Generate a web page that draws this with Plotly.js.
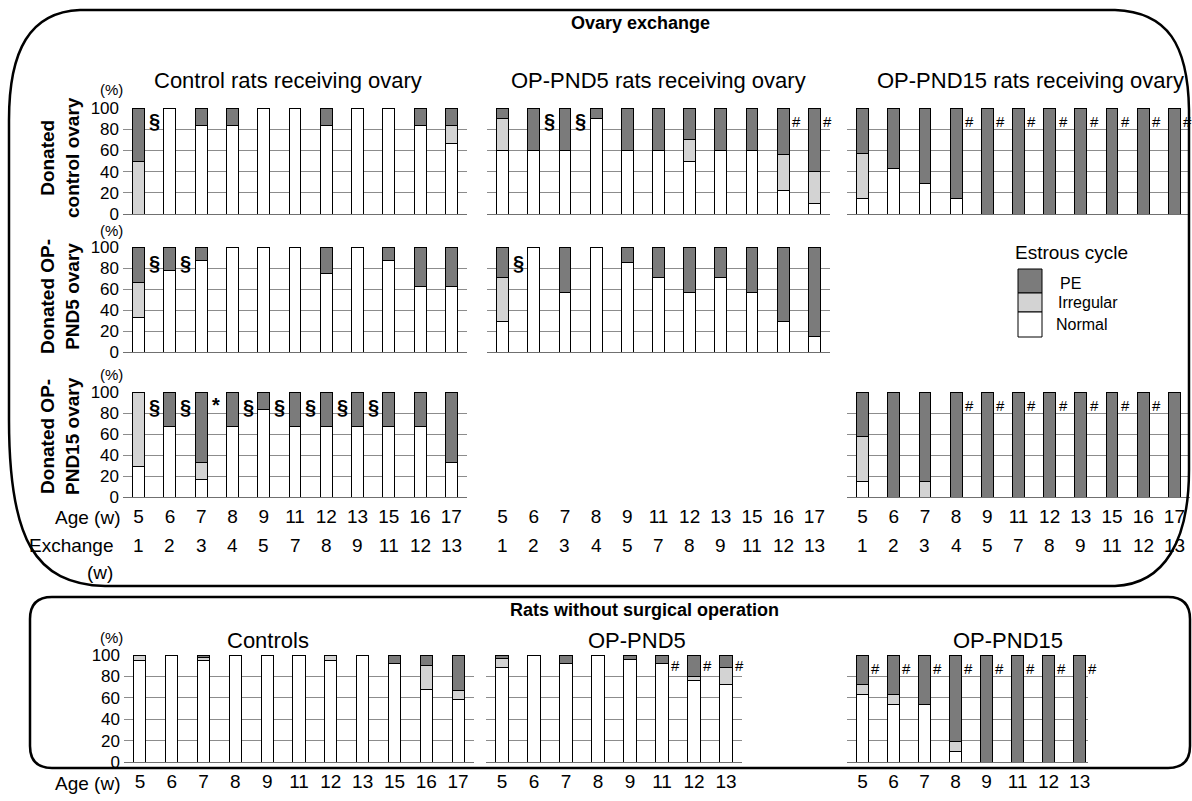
<!DOCTYPE html>
<html><head><meta charset="utf-8">
<script src="https://cdn.plot.ly/plotly-3.0.1.min.js"></script>
<style>html,body{margin:0;padding:0;background:#fff}#chart{width:1192px;height:801px}</style>
</head><body><div id="chart"></div>
<script>
// ---------- categories ----------
const agesOvx   = ['5','6','7','8','9','11','12','13','15','16','17'];
const exchangeW = ['1','2','3','4','5','7','8','9','11','12','13'];
const agesNoOp  = ['5','6','7','8','9','11','12','13'];

// ---------- Ovary exchange: donated control ovary ----------
const r1c1_normal = [0,100,83.3,83.3,100,100,83.3,100,100,83.3,66.7];
const r1c1_irr    = [50,0,0,0,0,0,0,0,0,0,16.7];
const r1c1_pe     = [50,0,16.7,16.7,0,0,16.7,0,0,16.7,16.6];

const r1c2_normal = [60,60,60,90,60,60,50,60,60,22,10];
const r1c2_irr    = [30,0,0,0,0,0,20,0,0,34,30];
const r1c2_pe     = [10,40,40,10,40,40,30,40,40,44,60];

const r1c3_normal = [14.3,42.9,28.6,14.3,0,0,0,0,0,0,0];
const r1c3_irr    = [42.9,0,0,0,0,0,0,0,0,0,0];
const r1c3_pe     = [42.8,57.1,71.4,85.7,100,100,100,100,100,100,100];

// ---------- donated OP-PND5 ovary ----------
const r2c1_normal = [33.3,77.8,87.5,100,100,100,75,100,87.5,62.5,62.5];
const r2c1_irr    = [33.3,0,0,0,0,0,0,0,0,0,0];
const r2c1_pe     = [33.4,22.2,12.5,0,0,0,25,0,12.5,37.5,37.5];

const r2c2_normal = [28.6,100,57.1,100,85.7,71.4,57.1,71.4,57.1,28.6,14.3];
const r2c2_irr    = [42.8,0,0,0,0,0,0,0,0,0,0];
const r2c2_pe     = [28.6,0,42.9,0,14.3,28.6,42.9,28.6,42.9,71.4,85.7];

// ---------- donated OP-PND15 ovary ----------
const r3c1_normal = [28.6,66.7,16.7,66.7,83.3,66.7,66.7,66.7,66.7,66.7,33.3];
const r3c1_irr    = [71.4,0,16.6,0,0,0,0,0,0,0,0];
const r3c1_pe     = [0,33.3,66.7,33.3,16.7,33.3,33.3,33.3,33.3,33.3,66.7];

const r3c3_normal = [14.3,0,0,0,0,0,0,0,0,0,0];
const r3c3_irr    = [42.9,0,14.3,0,0,0,0,0,0,0,0];
const r3c3_pe     = [42.8,100,85.7,100,100,100,100,100,100,100,100];

// ---------- rats without surgical operation ----------
const noop_ctrl_normal = [95,100,95,100,100,100,95,100,92,68,58];
const noop_ctrl_irr    = [5,0,3,0,0,0,5,0,0,22,9];
const noop_ctrl_pe     = [0,0,2,0,0,0,0,0,8,10,33];

const noop_pnd5_normal = [88,100,92,100,96,92,76,72];
const noop_pnd5_irr    = [9,0,0,0,0,0,4,16];
const noop_pnd5_pe     = [3,0,8,0,4,8,20,12];

const noop_pnd15_normal = [63,54,54,10,0,0,0,0];
const noop_pnd15_irr    = [9,9,0,9,0,0,0,0];
const noop_pnd15_pe     = [28,37,46,81,100,100,100,100];

// ---------- significance marks (bar index they follow) ----------
const r1c1_sect = [0];
const r1c2_sect = [1,2];
const r1c2_hash = [9,10];
const r1c3_hash = [3,4,5,6,7,8,9,10];
const r2c1_sect = [0,1];
const r2c2_sect = [0];
const r3c1_sect = [0,1,3,4,5,6,7];
const r3c1_star = [2];
const r3c3_hash = [3,4,5,6,7,8,9];
const noop_pnd5_hash  = [5,6,7];
const noop_pnd15_hash = [0,1,2,3,4,5,6,7];

// ---------- geometry helpers ----------
const W = 1192, H = 801;
const X = p => p / W;
const Y = p => 1 - p / H;
const P = (x, y) => X(x).toFixed(5) + ',' + Y(y).toFixed(5);
const FONT = '"Liberation Sans", Arial, Helvetica, sans-serif';
const C_PE = '#7b7b7b', C_IRR = '#d3d3d3', C_NORM = '#ffffff';

const panels = [
  {k:1,  n:r1c1_normal, i:r1c1_irr, p:r1c1_pe, cats:agesOvx, xd:[123,467], yd:[108,214], yl:true, pct:89,
   marks:[{idx:r1c1_sect, s:'§', y:88, b:true}]},
  {k:2,  n:r1c2_normal, i:r1c2_irr, p:r1c2_pe, cats:agesOvx, xd:[487,830], yd:[108,214],
   marks:[{idx:r1c2_sect, s:'§', y:88, b:true},{idx:r1c2_hash, s:'#', y:87}]},
  {k:3,  n:r1c3_normal, i:r1c3_irr, p:r1c3_pe, cats:agesOvx, xd:[847,1190], yd:[108,214],
   marks:[{idx:r1c3_hash, s:'#', y:87}]},
  {k:4,  n:r2c1_normal, i:r2c1_irr, p:r2c1_pe, cats:agesOvx, xd:[123,467], yd:[247,352], yl:true, pct:230,
   marks:[{idx:r2c1_sect, s:'§', y:85, b:true}]},
  {k:5,  n:r2c2_normal, i:r2c2_irr, p:r2c2_pe, cats:agesOvx, xd:[487,830], yd:[247,352],
   marks:[{idx:r2c2_sect, s:'§', y:85, b:true}]},
  {k:6,  n:r3c1_normal, i:r3c1_irr, p:r3c1_pe, cats:agesOvx, xd:[123,467], yd:[392,497], yl:true, pct:374, xl:true, exch:true,
   marks:[{idx:r3c1_sect, s:'§', y:86, b:true},{idx:r3c1_star, s:'*', y:88, b:true}]},
  {k:7,  n:r3c3_normal, i:r3c3_irr, p:r3c3_pe, cats:agesOvx, xd:[847,1190], yd:[392,497], xl:true, exch:true,
   marks:[{idx:r3c3_hash, s:'#', y:87}]},
  {k:8,  empty:true, cats:agesOvx, xd:[487,830], yd:[392,497], xl:true, exch:true, marks:[]},
  {k:9,  n:noop_ctrl_normal, i:noop_ctrl_irr, p:noop_ctrl_pe, cats:agesOvx, xd:[124,474], yd:[655,762], yl:true, pct:637, xl:true, marks:[]},
  {k:10, n:noop_pnd5_normal, i:noop_pnd5_irr, p:noop_pnd5_pe, cats:agesNoOp, xd:[486,742], yd:[655,762], xl:true,
   marks:[{idx:noop_pnd5_hash, s:'#', y:90}]},
  {k:11, n:noop_pnd15_normal, i:noop_pnd15_irr, p:noop_pnd15_pe, cats:agesNoOp, xd:[847,1088], yd:[655,762], xl:true, range:[-0.5,7.27],
   marks:[{idx:noop_pnd15_hash, s:'#', y:87}]}
];

const traces = [];
const layout = {
  width: W, height: H, margin:{l:0,r:0,t:0,b:0},
  paper_bgcolor:'#fff', plot_bgcolor:'rgba(0,0,0,0)',
  barmode:'stack', showlegend:false,
  font:{family:FONT, color:'#000'},
  annotations:[], shapes:[]
};

panels.forEach(pn => {
  const sx = pn.k === 1 ? '' : String(pn.k);
  const xa = 'x' + sx, ya = 'y' + sx;
  const idx = pn.cats.map((_, j) => j);
  const range = pn.range || [-0.5, pn.cats.length - 0.5];
  layout['xaxis' + sx] = {
    domain:[X(pn.xd[0]), X(pn.xd[1])], anchor:ya, type:'linear', range:range,
    tickmode:'array', tickvals:idx, ticktext:pn.cats, showticklabels:!!pn.xl,
    ticks:'', showgrid:false, zeroline:false, showline:false,
    tickfont:{size:19, family:FONT}, ticklabelstandoff:6, fixedrange:true
  };
  layout['yaxis' + sx] = {
    domain:[Y(pn.yd[1]), Y(pn.yd[0])], anchor:xa, range:[0,100],
    tickmode:'linear', tick0:0, dtick:20, showticklabels:!!pn.yl,
    ticks:'', showgrid:!pn.empty, gridcolor:'#8c8c8c', gridwidth:1,
    zeroline:!pn.empty, zerolinecolor:'#707070', zerolinewidth:1, showline:false,
    tickfont:{size:17, family:FONT}, ticklabelstandoff:3, fixedrange:true, visible:!pn.empty
  };
  if (pn.empty) {
    traces.push({type:'scatter', x:[], y:[], xaxis:xa, yaxis:ya, hoverinfo:'skip'});
  } else {
    const series = [['Normal', pn.n, C_NORM], ['Irregular', pn.i, C_IRR], ['PE', pn.p, C_PE]];
    series.forEach(([name, vals, col]) => {
      traces.push({
        type:'bar', name:name, x:idx, y:vals, xaxis:xa, yaxis:ya, width:0.38,
        marker:{color:col, line:{color:'#000', width:1}}, hoverinfo:'skip'
      });
    });
  }
  if (pn.yl) {
    layout.annotations.push({xref:'paper', yref:'paper', x:X(111), y:Y(pn.pct),
      text:'(%)', showarrow:false, font:{size:15}, xanchor:'center', yanchor:'middle'});
  }
  if (pn.exch) {
    exchangeW.forEach((t, j) => layout.annotations.push({xref:xa, yref:'paper', x:j, y:Y(545),
      text:t, showarrow:false, font:{size:19}, xanchor:'center', yanchor:'middle'}));
  }
  pn.marks.forEach(m => m.idx.forEach(j => layout.annotations.push({
    xref:xa, yref:ya, x:j + (m.b ? 0.27 : 0.22), y:m.y, text:m.b ? '<b>' + m.s + '</b>' : m.s,
    showarrow:false, font:{size:m.b ? 20 : 15}, xanchor:'left', yanchor:'middle'
  })));
});

// ---------- text labels ----------
const A = (x, y, text, size, opts) => layout.annotations.push(Object.assign({
  xref:'paper', yref:'paper', x:X(x), y:Y(y), text:text, showarrow:false,
  font:{size:size}, xanchor:'center', yanchor:'middle'}, opts || {}));

A(640, 23, '<b>Ovary exchange</b>', 18);
A(288, 80, 'Control rats receiving ovary', 22);
A(658, 80, 'OP-PND5 rats receiving ovary', 22);
A(1030, 80, 'OP-PND15 rats receiving ovary', 22);

A(60, 157, '<b>Donated<br>control ovary</b>', 19, {textangle:-90});
A(60, 296, '<b>Donated OP-<br>PND5 ovary</b>', 19, {textangle:-90});
A(60, 436, '<b>Donated OP-<br>PND15 ovary</b>', 19, {textangle:-90});

A(122, 517, 'Age (w)', 19, {xanchor:'right'});
A(116, 545, 'Exchange', 19, {xanchor:'right'});
A(100, 572, '(w)', 19);

A(644, 610, '<b>Rats without surgical operation</b>', 18);
A(268, 640, 'Controls', 22);
A(637, 640, 'OP-PND5', 22);
A(1008, 640, 'OP-PND15', 22);
A(122, 783, 'Age (w)', 19, {xanchor:'right'});

// legend
A(1013, 252, 'Estrous cycle', 19, {xanchor:'left'});
A(1058, 283, 'PE', 16, {xanchor:'left'});
A(1056, 302, 'Irregular', 16, {xanchor:'left'});
A(1054, 324, 'Normal', 16, {xanchor:'left'});
const rect = (x0, y0, x1, y1, fill) => layout.shapes.push({type:'rect', xref:'paper', yref:'paper',
  x0:X(x0), x1:X(x1), y0:Y(y1), y1:Y(y0), fillcolor:fill, line:{color:'#000', width:1}});
rect(1018, 269, 1042, 293, C_PE);
rect(1018, 293, 1042, 312, C_IRR);
rect(1018, 312, 1042, 337, C_NORM);

// ---------- rounded frames ----------
const bigBox = 'M' + P(80,10) + ' L' + P(1115,10) +
  ' C' + P(1168,12) + ' ' + P(1188,45) + ' ' + P(1189,110) +
  ' L' + P(1189,470) + ' C' + P(1189,540) + ' ' + P(1165,584) + ' ' + P(1115,586) +
  ' L' + P(105,586) + ' C' + P(35,584) + ' ' + P(9,540) + ' ' + P(9,420) +
  ' L' + P(9,120) + ' C' + P(9,50) + ' ' + P(30,12) + ' ' + P(80,10) + ' Z';
const r = 22;
const smallBox = 'M' + P(30+r,597) + ' L' + P(1190-r,597) + ' Q' + P(1190,597) + ' ' + P(1190,597+r) +
  ' L' + P(1190,768-r) + ' Q' + P(1190,768) + ' ' + P(1190-r,768) +
  ' L' + P(30+r,768) + ' Q' + P(30,768) + ' ' + P(30,768-r) +
  ' L' + P(30,597+r) + ' Q' + P(30,597) + ' ' + P(30+r,597) + ' Z';
[bigBox, smallBox].forEach(path => layout.shapes.push({type:'path', xref:'paper', yref:'paper',
  path:path, line:{color:'#000', width:2.5}, fillcolor:'rgba(0,0,0,0)'}));

Plotly.newPlot('chart', traces, layout, {displayModeBar:false, staticPlot:true});
</script></body></html>
